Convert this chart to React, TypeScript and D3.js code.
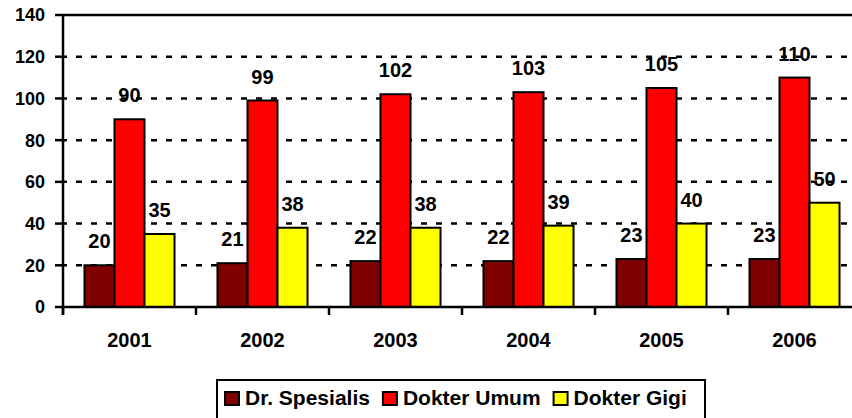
import React, { useMemo } from 'react'
import * as d3 from 'd3'

const years = ['2001', '2002', '2003', '2004', '2005', '2006']
const seriesNames = ['Dr. Spesialis', 'Dokter Umum', 'Dokter Gigi']
const drSpesialis = [20, 21, 22, 22, 23, 23]
const dokterUmum = [90, 99, 102, 103, 105, 110]
const dokterGigi = [35, 38, 38, 39, 40, 50]
const yTicks = [0, 20, 40, 60, 80, 100, 120, 140]

const colors = ['#800000', '#ff0000', '#ffff00']
const font = "'Liberation Sans', Arial, sans-serif"

const W = 852
const H = 418
const left = 63
const top = 15
const bottom = 307

const measure = (txt: string, size: number) => {
  const ctx = document.createElement('canvas').getContext('2d')
  if (!ctx) return txt.length * size * 0.6
  ctx.font = `bold ${size}px ${font}`
  return ctx.measureText(txt).width
}

const App = () => {
  const values = [drSpesialis, dokterUmum, dokterGigi]

  const x0 = d3
    .scaleBand()
    .domain(years)
    .range([left, left + 133 * years.length])
    .paddingInner(0.323)
    .paddingOuter(0.1615)

  const x1 = d3
    .scaleBand()
    .domain(seriesNames)
    .range([0, x0.bandwidth()])

  const y = d3.scaleLinear().domain([0, 140]).range([bottom, top])

  const half = (x0.step() - x0.bandwidth()) / 2
  const boundaries = years.map(d => (x0(d) as number) - half)
  boundaries.push((x0(years[years.length - 1]) as number) + x0.bandwidth() + half)

  const legendItems = useMemo(() => {
    let cx = 225
    return seriesNames.map((name, i) => {
      const w = measure(name, 21)
      const item = { name, i, x: cx }
      cx += 14 + 6 + w + 13
      return item
    })
  }, [])

  return (
    <svg width={W} height={H} style={{ position: 'absolute', left: 0, top: 0, background: '#fff' }} fontFamily={font} fontWeight="bold">
      <g id="grid">
        {yTicks.filter(t => t > 0 && t < 140).map(t => (
          <line key={t} x1={left} x2={W} y1={y(t)} y2={y(t)} stroke="#000" strokeWidth={2.5} strokeDasharray="6 9" strokeDashoffset={2} />
        ))}
        <line x1={left} x2={W} y1={y(140)} y2={y(140)} stroke="#000" strokeWidth={2.5} />
      </g>

      <g id="bars">
        {years.map((yr, j) => (
          <g key={yr} transform={`translate(${x0(yr)},0)`}>
            {seriesNames.map((s, i) => {
              const v = values[i][j]
              const bx = x1(s) as number
              return (
                <g key={s}>
                  <rect x={bx} y={y(v)} width={x1.bandwidth()} height={bottom - y(v)} fill={colors[i]} stroke="#000" strokeWidth={2} />
                  <text x={bx + x1.bandwidth() / 2} y={y(v) - 17} textAnchor="middle" fontSize={20} fill="#000">{v}</text>
                </g>
              )
            })}
          </g>
        ))}
      </g>

      <g id="axes">
        <line x1={left} x2={left} y1={top} y2={bottom + 8} stroke="#000" strokeWidth={2.5} />
        <line x1={left} x2={W} y1={bottom} y2={bottom} stroke="#000" strokeWidth={2.5} />
        {yTicks.map(t => (
          <g key={t}>
            <line x1={left - 8} x2={left} y1={y(t)} y2={y(t)} stroke="#000" strokeWidth={2.5} />
            <text x={45} y={y(t)} dy="0.36em" textAnchor="end" fontSize={18} fill="#000">{t}</text>
          </g>
        ))}
        {boundaries.map((b, i) => (
          <line key={i} x1={b} x2={b} y1={bottom} y2={bottom + 8} stroke="#000" strokeWidth={2.5} />
        ))}
        {years.map(yr => (
          <text key={yr} x={(x0(yr) as number) + x0.bandwidth() / 2} y={347} textAnchor="middle" fontSize={20} fill="#000">{yr}</text>
        ))}
      </g>

      <g id="legend">
        <rect x={217} y={380} width={488} height={50} fill="#fff" stroke="#000" strokeWidth={2} />
        {legendItems.map(it => (
          <g key={it.name}>
            <rect x={it.x} y={392} width={14} height={13} fill={colors[it.i]} stroke="#000" strokeWidth={2} />
            <text x={it.x + 20} y={405} fontSize={21} fill="#000">{it.name}</text>
          </g>
        ))}
      </g>
    </svg>
  )
}

export default App
